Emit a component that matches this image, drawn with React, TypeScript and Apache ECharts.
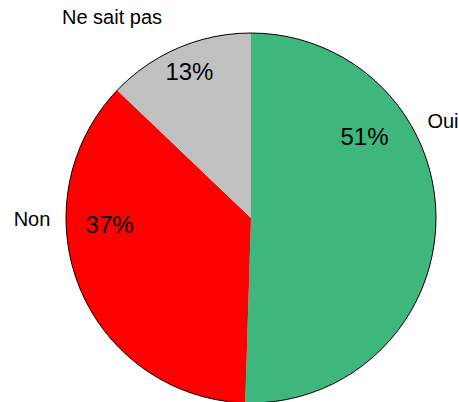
import React, { useEffect, useRef } from "react";
import * as echarts from "echarts";

const categories = ["Oui", "Non", "Ne sait pas"];
const values = [51, 37, 13];
const colors = ["#3DB77B", "#FF0000", "#C0C0C0"];
const percentLabels = ["51%", "37%", "13%"];

export default function App() {
  const ref = useRef<HTMLDivElement>(null);
  useEffect(() => {
    if (!ref.current) return;
    const chart = echarts.init(ref.current, undefined, { renderer: "svg" });
    const center = [251, 218];
    const radius = 185;
    const data = categories.map((c, i) => ({
      name: c,
      value: values[i],
      itemStyle: { color: colors[i] },
    }));
    const insideShift = [
      [18, -83],
      [-53, -30],
      [-24, -59],
    ];
    const namePos = [
      [443, 121],
      [32, 219],
      [112, 17],
    ];
    chart.setOption({
      animation: false,
      series: [
        {
          type: "pie",
          center,
          radius,
          startAngle: 90,
          clockwise: true,
          silent: true,
          data,
          itemStyle: { borderWidth: 0 },
          label: {
            show: true,
            position: "inside",
            formatter: (p: any) => percentLabels[p.dataIndex],
            fontFamily: "Liberation Sans, Arial, sans-serif",
            fontSize: 24,
            color: "#000",
          },
          labelLayout: (p: any) => ({
            dx: insideShift[p.dataIndex][0],
            dy: insideShift[p.dataIndex][1],
          }),
          emphasis: { disabled: true },
        },
        {
          type: "pie",
          center,
          radius,
          startAngle: 90,
          clockwise: true,
          silent: true,
          data: categories.map((c, i) => ({
            name: c,
            value: values[i],
            itemStyle: { color: "rgba(0,0,0,0)" },
          })),
          itemStyle: { borderWidth: 0 },
          label: {
            show: true,
            position: "inside",
            formatter: "{b}",
            fontFamily: "Liberation Sans, Arial, sans-serif",
            fontSize: 20,
            color: "#000",
          },
          labelLine: { show: false },
          labelLayout: (p: any) => ({
            x: namePos[p.dataIndex][0],
            y: namePos[p.dataIndex][1],
            align: "center",
            verticalAlign: "middle",
          }),
          emphasis: { disabled: true },
        },
        {
          type: "pie",
          center,
          radius,
          silent: true,
          data: [{ name: "outline", value: 1 }],
          itemStyle: {
            color: "rgba(0,0,0,0)",
            borderColor: "#000",
            borderWidth: 1,
          },
          label: { show: false },
          labelLine: { show: false },
          emphasis: { disabled: true },
        },
      ],
    });
    return () => chart.dispose();
  }, []);
  return (
    <div
      ref={ref}
      style={{ position: "fixed", left: 0, top: 0, width: 459, height: 402, background: "#fff" }}
    />
  );
}
